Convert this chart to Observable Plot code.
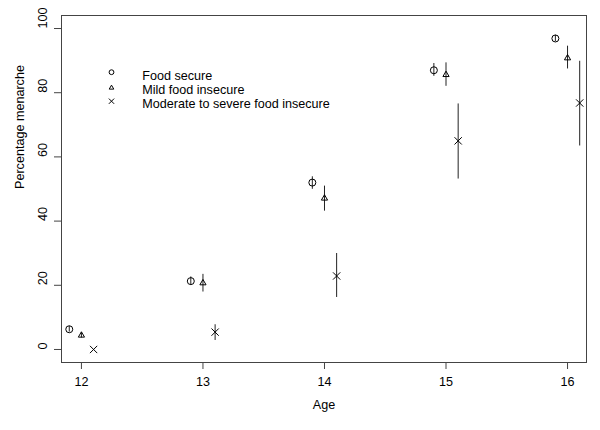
<!DOCTYPE html>
<html>
<head>
<meta charset="utf-8">
<script src="https://cdn.jsdelivr.net/npm/d3@7"></script>
<script src="https://cdn.jsdelivr.net/npm/@observablehq/plot@0.6"></script>
<style>
  html, body { margin: 0; padding: 0; background: white; }
  #chart svg { display: block; }
</style>
</head>
<body>
<div id="chart"></div>
<script>
// ---- data ----
const ages = [12, 13, 14, 15, 16];
const groupNames = ["Food secure", "Mild food insecure", "Moderate to severe food insecure"];

const secure   = [6.3, 21.3, 52.0, 87.0, 96.9];
const secureLo = [5.4, 20.0, 49.9, 85.1, 95.9];
const secureHi = [7.2, 22.6, 53.8, 89.1, 97.9];

const mild   = [4.4, 20.7, 47.1, 85.6, 90.8];
const mildLo = [3.6, 17.9, 43.1, 82.0, 87.4];
const mildHi = [5.2, 23.4, 50.9, 89.3, 94.5];

const severe   = [0.0, 5.4, 22.9, 65.0, 76.8];
const severeLo = [0.0, 2.8, 16.2, 53.1, 63.4];
const severeHi = [0.0, 7.7, 29.9, 76.5, 89.8];

const xTicks = [12, 13, 14, 15, 16];
const yTicks = [0, 20, 40, 60, 80, 100];

// ---- build table ----
const series = [
  {name: groupNames[0], v: secure, lo: secureLo, hi: secureHi},
  {name: groupNames[1], v: mild, lo: mildLo, hi: mildHi},
  {name: groupNames[2], v: severe, lo: severeLo, hi: severeHi}
];
const shift = [-0.1, 0, 0.1];
const symbols = ["circle", "triangle", "times"];
const radii = [3.5, 2.3, 3.4];
const legendRadii = [2.4, 1.7, 2.5];
const fs = 12.6;

const rows = [];
series.forEach((s, gi) => {
  ages.forEach((a, i) => {
    rows.push({group: s.name, gi, age: a + shift[gi], value: s.v[i], lo: s.lo[i], hi: s.hi[i]});
  });
});

const marks = [
  Plot.frame({stroke: "#444"}),
  Plot.axisX({ticks: xTicks, tickSize: 7, tickPadding: 7.5, tickFormat: d => String(d), label: null, stroke: "#444", fill: "black", fontSize: fs}),
  Plot.axisY({ticks: yTicks, tickSize: 7, tickFormat: () => "", label: null, stroke: "#444"}),
  Plot.text(yTicks, {y: d => d, text: d => String(d), frameAnchor: "left", dx: -18.5, rotate: -90, fontSize: fs, fill: "black"}),
  Plot.text(["Percentage menarche"], {frameAnchor: "left", dx: -42, rotate: -90, text: d => d, fontSize: fs, fill: "black"}),
  Plot.text(["Age"], {frameAnchor: "bottom", dy: 46, text: d => d, fontSize: fs, fill: "black"}),
  Plot.ruleX(rows.filter(d => d.hi > d.lo), {x: "age", y1: "lo", y2: "hi", stroke: "#222", strokeWidth: 1})
];

[0, 1, 2].forEach(gi => {
  marks.push(Plot.dot(rows.filter(d => d.gi === gi), {
    x: "age", y: "value", symbol: symbols[gi], r: radii[gi],
    stroke: "black", strokeWidth: 1, fill: "none"
  }));
});

// legend inside the plot
const legSymDy = [56.7, 72.3, 85.7];
const legTextDy = [60, 74, 88];
[0, 1, 2].forEach(gi => {
  marks.push(Plot.dot([groupNames[gi]], {
    frameAnchor: "top-left", dx: 50, dy: legSymDy[gi], symbol: symbols[gi], r: legendRadii[gi],
    stroke: "black", strokeWidth: 1, fill: "none"
  }));
  marks.push(Plot.text([groupNames[gi]], {
    frameAnchor: "top-left", dx: 80.7, dy: legTextDy[gi], text: d => d,
    textAnchor: "start", lineAnchor: "middle", fontSize: fs, fill: "black"
  }));
});

const chart = Plot.plot({
  width: 600,
  height: 430,
  marginLeft: 61,
  marginRight: 14,
  marginTop: 15,
  marginBottom: 68,
  x: {domain: [11.836, 16.156]},
  y: {domain: [-4.06, 104.06]},
  style: {fontFamily: "'Liberation Sans', Arial, Helvetica, sans-serif", fontSize: fs + "px", background: "white", color: "black"},
  marks
});
document.getElementById("chart").appendChild(chart);
</script>
</body>
</html>
